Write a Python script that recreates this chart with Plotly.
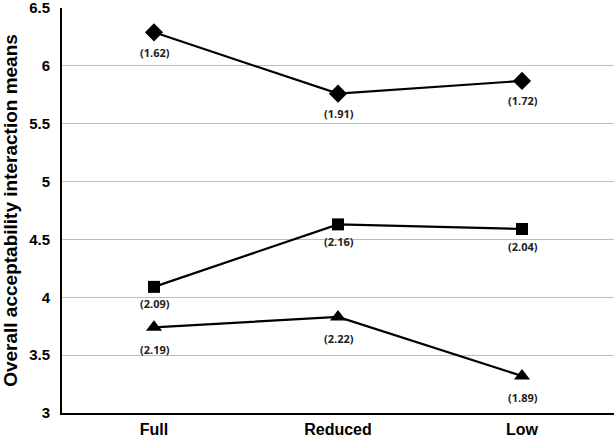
import plotly.graph_objects as go

categories = ["Full", "Reduced", "Low"]
diamond_vals = [6.29, 5.76, 5.87]
diamond_sd = ["(1.62)", "(1.91)", "(1.72)"]
square_vals = [4.09, 4.63, 4.59]
square_sd = ["(2.09)", "(2.16)", "(2.04)"]
triangle_vals = [3.74, 3.83, 3.32]
triangle_sd = ["(2.19)", "(2.22)", "(1.89)"]
y_ticks = [3, 3.5, 4, 4.5, 5, 5.5, 6, 6.5]

fig = go.Figure()
series = [
    (diamond_vals, diamond_sd, "diamond", 14, -20),
    (square_vals, square_sd, "square", 12, -17),
    (triangle_vals, triangle_sd, "triangle-up", 14, -22),
]
for vals, sd, sym, size, shift in series:
    fig.add_trace(go.Scatter(
        x=categories, y=vals, mode="lines+markers",
        line=dict(color="black", width=2.2),
        marker=dict(symbol=sym, size=size, color="black"),
        cliponaxis=False, showlegend=False,
    ))
    for c, v, t in zip(categories, vals, sd):
        fig.add_annotation(
            x=c, y=v, text="<b>%s</b>" % t, showarrow=False,
            yshift=shift, xshift=1,
            font=dict(family="Open Sans", size=11, color="#222"),
        )

fig.update_layout(
    width=614, height=438,
    margin=dict(l=62, r=0, t=8, b=25, autoexpand=False),
    paper_bgcolor="white", plot_bgcolor="white",
    font=dict(family="Liberation Sans", color="black"),
    xaxis=dict(
        range=[-0.5, 2.5], showgrid=False, showline=True,
        linecolor="black", linewidth=2, ticks="",
        tickfont=dict(size=16, family="Liberation Sans"),
        tickprefix="<b>", ticksuffix="</b>",
        ticklabeloverflow="allow", ticklabelstandoff=1,
        automargin=False,
    ),
    yaxis=dict(
        range=[3, 6.5], tickvals=y_ticks,
        ticktext=["<b>%g</b>" % v for v in y_ticks],
        showgrid=True, gridcolor="#bdbdbd", gridwidth=1,
        showline=True, linecolor="black", linewidth=2,
        ticks="", ticklabelstandoff=7,
        ticklabeloverflow="allow", automargin=False,
        tickfont=dict(size=15, family="Liberation Sans"),
        title=dict(text="<b>Overall acceptability interaction means</b>",
                   font=dict(size=19, family="Liberation Sans"), standoff=8),
        zeroline=False,
    ),
)
fig.write_html("out.html", config={"displayModeBar": False},
               post_script="document.body.style.margin='0';document.body.style.overflow='hidden';")
